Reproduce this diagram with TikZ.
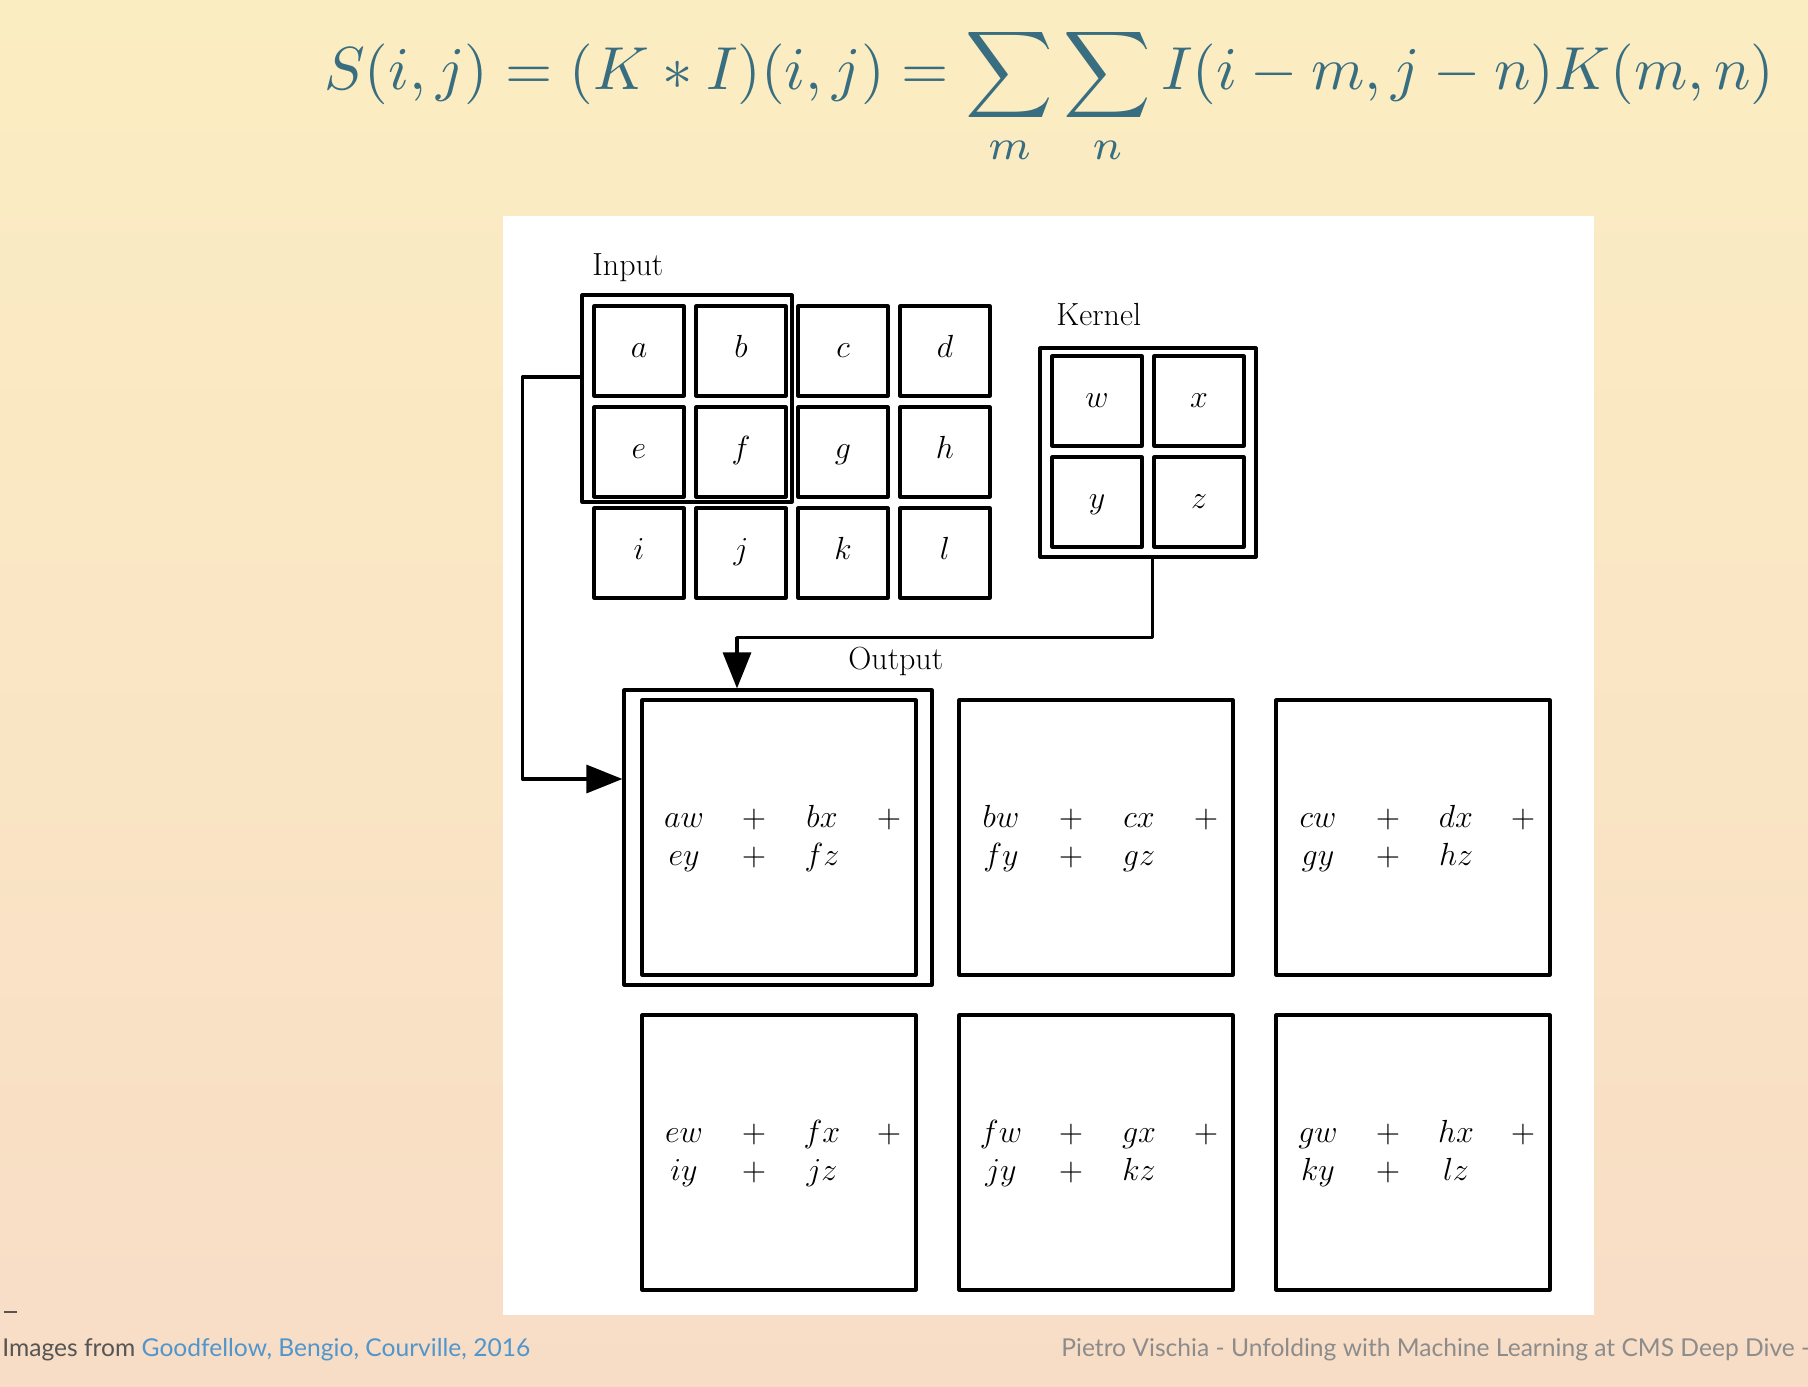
\RequirePackage{fix-cm}
\documentclass[tikz,border=0pt]{standalone}
\usepackage{amsmath}
\usepackage[no-math]{fontspec}
\newfontfamily\latofont{Lato}
\usetikzlibrary{arrows.meta}

\definecolor{bgtop}{RGB}{251,237,194}
\definecolor{bgbot}{RGB}{248,221,198}
\definecolor{eqcol}{RGB}{56,110,128}
\definecolor{linkcol}{RGB}{80,150,205}
\definecolor{footdark}{RGB}{85,85,85}
\definecolor{footlight}{RGB}{140,140,140}

\begin{document}
\begin{tikzpicture}[x=0.5pt,y=-0.5pt,
  cell/.style={draw, line width=1.6pt, line join=round, minimum size=45pt, inner sep=0pt, text height=7pt, text depth=1pt, font=\fontsize{16}{19}\selectfont},
  framebox/.style={draw, line width=1.6pt, line join=round, inner sep=0pt},
  outbox/.style={framebox, minimum width=137pt, minimum height=137.5pt},
  term/.style={anchor=base, inner sep=0pt, font=\fontsize{16}{19}\selectfont},
  heading/.style={anchor=base west, inner sep=0pt, font=\fontsize{16}{19}\selectfont},
  footnote/.style={anchor=base west, inner sep=0pt, font=\latofont\fontsize{12.3}{15}\selectfont},
  flow/.style={line width=1.6pt, line join=round, -{Triangle[length=18pt,width=14pt]}}]
    % slide background and white figure panel
    \shade[top color=bgtop, bottom color=bgbot] (0,0) rectangle (1808,1386);
    \fill[white] (503,216) rectangle (1594,1315);
    \useasboundingbox (0,0) rectangle (1808,1386);
    \node[anchor=base west, inner sep=0pt, text=eqcol, scale=3.035] (eq) at (323,90)
        {$\displaystyle S(i,j)=(K*I)(i,j)=\sum_m\sum_n I(i-m,j-n)K(m,n)$};
    % input
    \foreach \cellname [count=\i from 0] in {a,b,c,d,e,f,g,h,i,j,k,l} {
        \pgfmathsetmacro\cx{639+102*mod(\i,4)}
        \pgfmathsetmacro\cy{351+101*int(\i/4)}
        \node[cell] (in-\cellname) at (\cx,\cy) {$\cellname$};
    }
    \node[framebox, minimum width=105pt, minimum height=103.5pt] (inframe) at (687,398.5) {};
    \node[heading] (inlabel) at (592,275) {Input};
    % kernel
    \foreach \cellname [count=\i from 0] in {w,x,y,z} {
        \pgfmathsetmacro\cx{1097+102*mod(\i,2)}
        \pgfmathsetmacro\cy{401+101*int(\i/2)}
        \node[cell] (k-\cellname) at (\cx,\cy) {$\cellname$};
    }
    \node[framebox, minimum width=108pt, minimum height=104.5pt] (kframe) at (1148,452.5) {};
    \node[heading] (klabel) at (1056,325) {Kernel};
    % output
    \node[heading] (outlabel) at (848,669) {Output};
    \foreach \bx/\by/\nm/\pa/\pb/\pc/\pd in {642/700/s1/aw/bx/ey/fz, 959/700/s2/bw/cx/fy/gz, 1276/700/s3/cw/dx/gy/hz,
                                            642/1015/s4/ew/fx/iy/jz, 959/1015/s5/fw/gx/jy/kz, 1276/1015/s6/gw/hx/ky/lz} {
        \node[outbox] (\nm) at (\bx+137,\by+137.5) {};
        \node[term] (\nm-1) at (\bx+42,\by+127) {$\pa$};
        \node[term] (\nm-2) at (\bx+112,\by+127) {$+$};
        \node[term] (\nm-3) at (\bx+180,\by+127) {$\pb$};
        \node[term] (\nm-4) at (\bx+247,\by+127) {$+$};
        \node[term] (\nm-5) at (\bx+42,\by+165) {$\pc$};
        \node[term] (\nm-6) at (\bx+112,\by+165) {$+$};
        \node[term] (\nm-7) at (\bx+180,\by+165) {$\pd$};
    }
    \node[framebox, minimum width=154pt, minimum height=147.5pt] (outframe) at (778,837.5) {};
    \draw[flow] ([yshift=10.75pt]inframe.west) -- ++(-58,0) |- ([yshift=29.25pt]outframe.west);
    \draw[flow] (k-z.west |- kframe.south) -- ++(0,79) -| ([xshift=-20.5pt]outframe.north);
    % footer
    \draw[footdark, line width=0.8pt] (4,1312) -- (17,1312);
    \node[footnote] (credit) at (2,1356)
        {\textcolor{footdark}{Images from} \textcolor{linkcol}{Goodfellow, Bengio, Courville, 2016}};
    \node[footnote, text=footlight] (talk) at (1061,1356)
        {Pietro Vischia - Unfolding with Machine Learning at CMS Deep Dive -};
\end{tikzpicture}
\end{document}
